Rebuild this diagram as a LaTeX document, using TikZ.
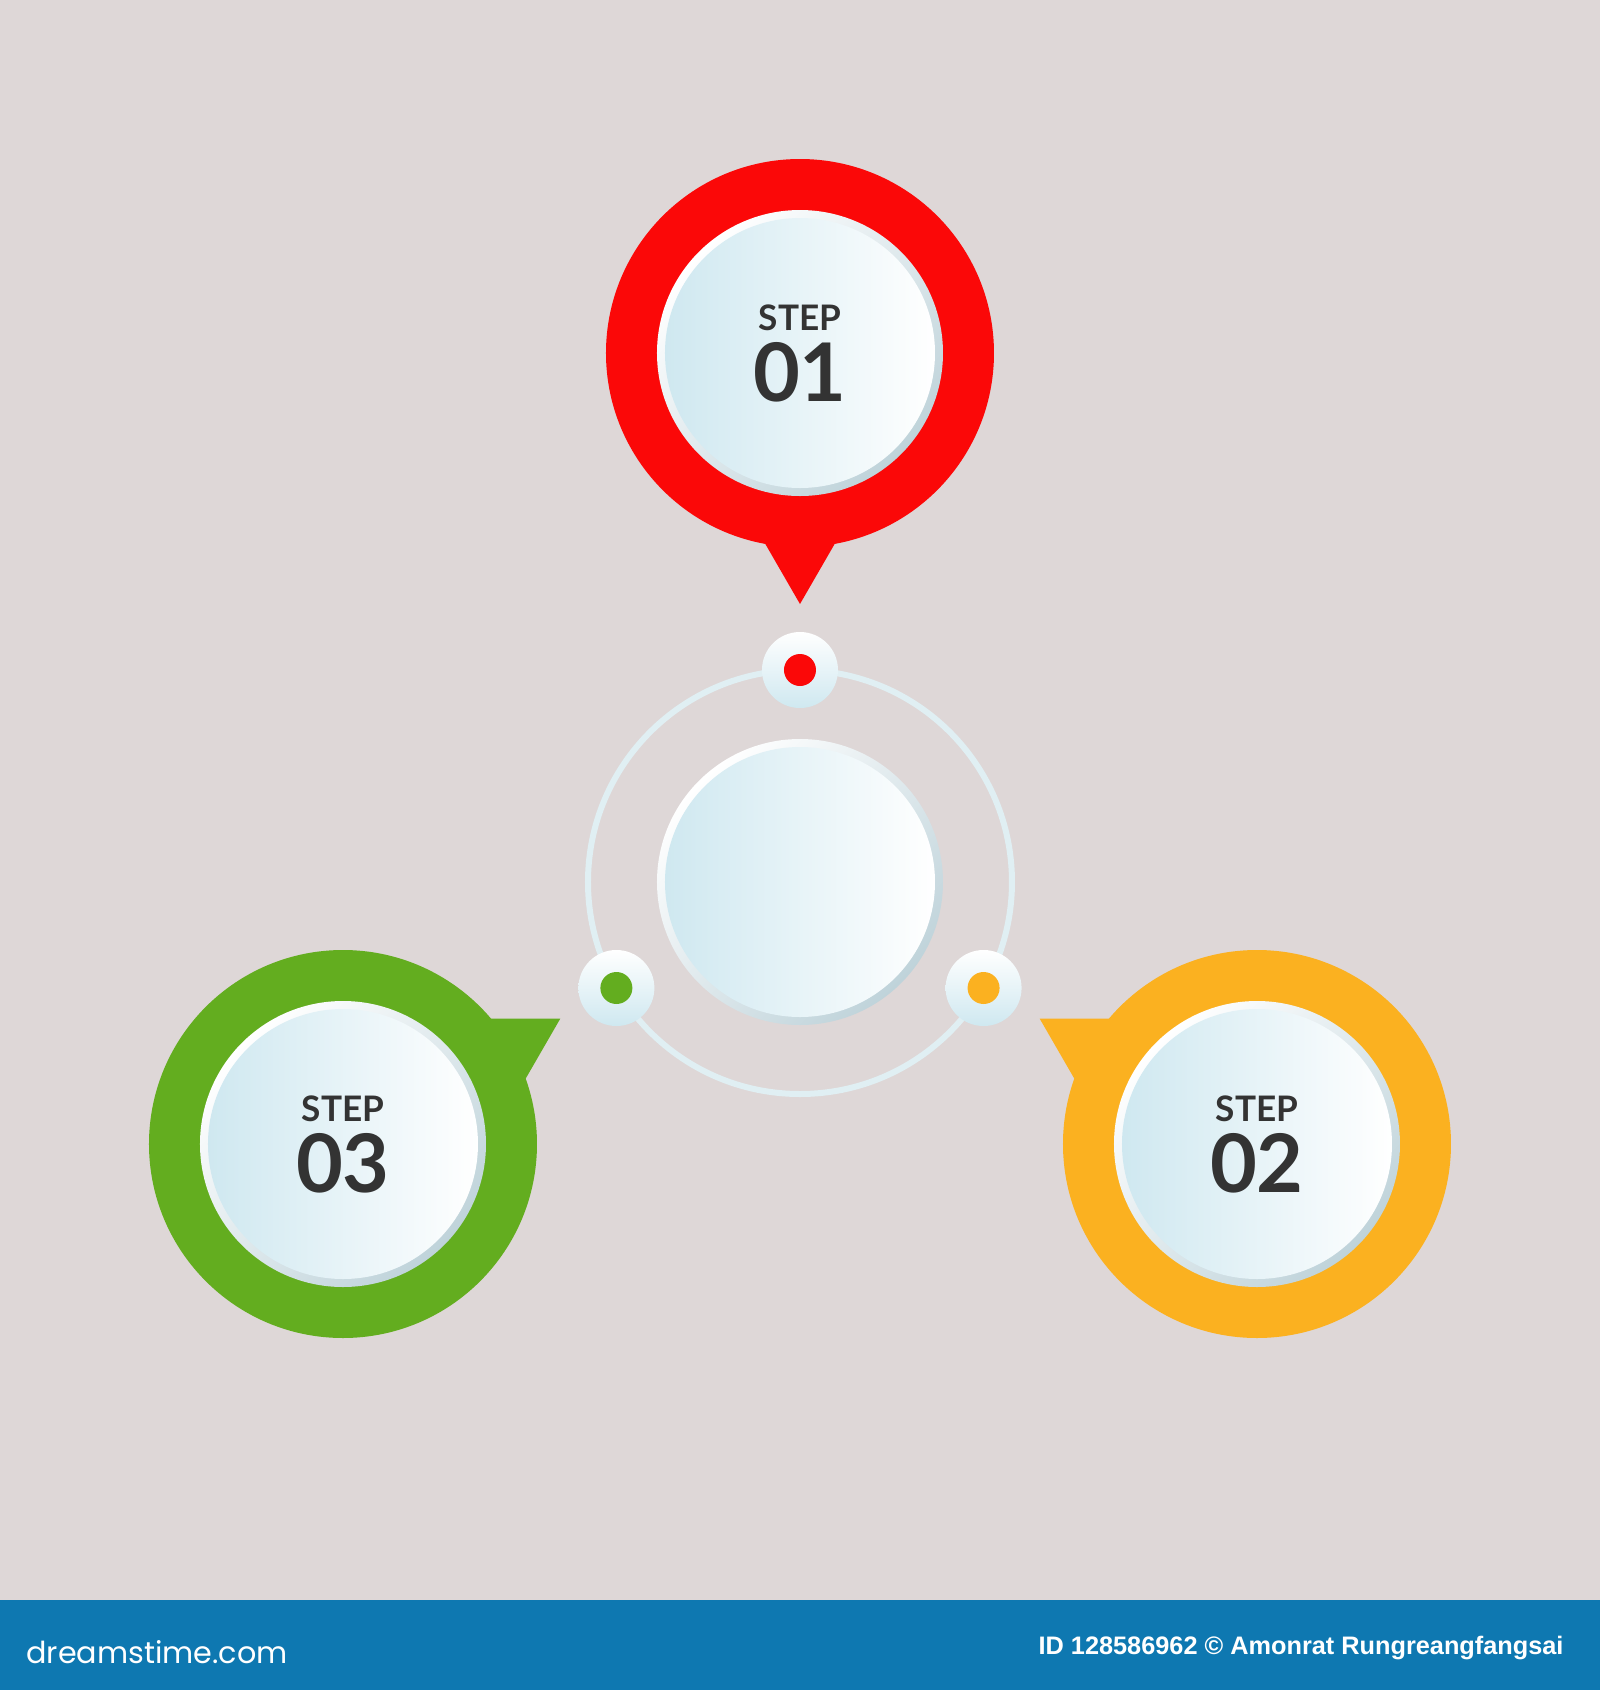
\documentclass[tikz,border=0pt]{standalone}
\usepackage{fontspec}
\setmainfont{Lato}
\newfontfamily\creditfont{Liberation Sans}
\newfontfamily\logofont{Poppins}
\usetikzlibrary{positioning}

\definecolor{bgpink}{HTML}{DED7D7}
\definecolor{pinred}{HTML}{FB0808}
\definecolor{pingreen}{HTML}{63AD1F}
\definecolor{pinorange}{HTML}{FBB120}
\definecolor{rimblue}{HTML}{BFD3DA}
\definecolor{faceblue}{HTML}{CFE8F0}
\definecolor{ringblue}{HTML}{E0EFF3}
\definecolor{steptext}{HTML}{333333}
\definecolor{bannerblue}{HTML}{0E78B1}

\tikzset{
  pinring/.style={circle, minimum size=3.88cm, inner sep=0pt},
  facerim/.style={circle, minimum size=2.86cm, inner sep=0pt, top color=white, bottom color=rimblue, shading angle=45},
  face/.style={circle, minimum size=2.70cm, inner sep=0pt, left color=faceblue, right color=white},
  halo/.style={circle, minimum size=0.76cm, inner sep=0pt, top color=white, bottom color=faceblue},
  orbitdot/.style={circle, minimum size=0.32cm, inner sep=0pt},
  steplabel/.style={anchor=base, inner sep=0pt, text=steptext, font=\bfseries\fontsize{10}{10}\selectfont},
  stepnum/.style={anchor=base, inner sep=0pt, text=steptext, font=\bfseries\fontsize{23}{23}\selectfont},
}

\begin{document}
\begin{tikzpicture}[node distance=5.29cm, on grid]
    \fill[bgpink] (-8,-8.08) rectangle (8,8.82);
    \useasboundingbox (-8,-8.08) rectangle (8,8.82);

    \node[facerim] (hub) at (0,0) {};
    \draw[ringblue, line width=0.06cm] (hub) circle (2.12cm);
    \node[face] (hubface) at (hub) {};

    \node[halo] (halo1) [above=2.12cm of hub] {};
    \node[halo] (halo2) [below right=1.06cm and 1.836cm of hub] {};
    \node[halo] (halo3) [below left=1.06cm and 1.836cm of hub] {};
    \node[orbitdot, fill=pinred] (dot1) at (halo1) {};
    \node[orbitdot, fill=pinorange] (dot2) at (halo2) {};
    \node[orbitdot, fill=pingreen] (dot3) at (halo3) {};

    \node[pinring, fill=pinred] (pin1) [above=of hub] {};
    \node[pinring, fill=pinorange] (pin2) [below right=2.62cm and 4.57cm of hub] {};
    \node[pinring, fill=pingreen] (pin3) [below left=2.62cm and 4.57cm of hub] {};

    \fill[pinred] (pin1) ++(-90:2.51) coordinate (tip1) -- +(60:1.2) -- +(120:1.2) -- cycle;
    \fill[pinorange] (pin2) ++(150:2.51) coordinate (tip2) -- +(300:1.2) -- +(0:1.2) -- cycle;
    \fill[pingreen] (pin3) ++(30:2.51) coordinate (tip3) -- +(180:1.2) -- +(240:1.2) -- cycle;

    \node[facerim] (rim1) at (pin1) {};
    \node[face] (face1) at (pin1) {};
    \node[facerim] (rim2) at (pin2) {};
    \node[face] (face2) at (pin2) {};
    \node[facerim] (rim3) at (pin3) {};
    \node[face] (face3) at (pin3) {};

    \node[steplabel] (step1) at ([yshift=0.23cm]pin1.center) {STEP};
    \node[stepnum] (num1) at ([yshift=-0.48cm]pin1.center) {01};
    \node[steplabel] (step2) at ([yshift=0.23cm]pin2.center) {STEP};
    \node[stepnum] (num2) at ([yshift=-0.48cm]pin2.center) {02};
    \node[steplabel] (step3) at ([yshift=0.23cm]pin3.center) {STEP};
    \node[stepnum] (num3) at ([yshift=-0.48cm]pin3.center) {03};

    \fill[bannerblue] (-8,-8.08) rectangle (8,-7.18);
    \node[anchor=base west, text=white, font=\logofont\fontsize{8.6}{8.6}\selectfont] (logo) at (-7.86,-7.81) {dreamstime.com};
    \node[anchor=base east, text=white, font=\creditfont\bfseries\fontsize{7.2}{7.2}\selectfont] (credit) at (7.76,-7.72) {ID 128586962 © Amonrat Rungreangfangsai};
\end{tikzpicture}
\end{document}
